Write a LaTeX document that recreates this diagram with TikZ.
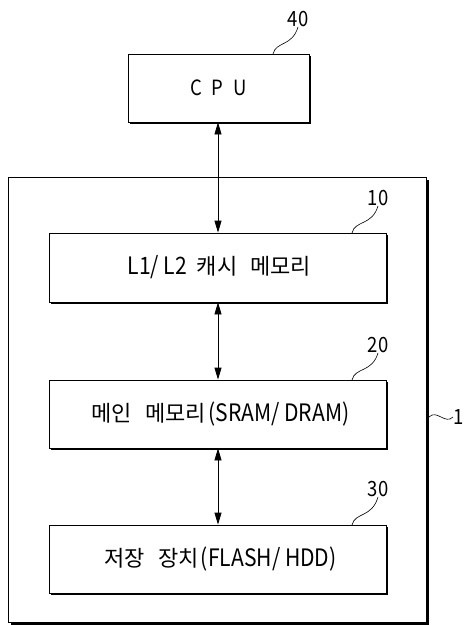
\documentclass[tikz,border=0pt]{standalone}
\usepackage{fontspec}
\usetikzlibrary{arrows.meta,shadows}
\setmainfont[FakeStretch=0.88]{Noto Sans CJK KR}
\newfontfamily\krfont{Noto Sans CJK KR}
\newcommand{\kr}[1]{{\krfont\fontsize{22}{24}\selectfont #1}}
\begin{document}
\begin{tikzpicture}[x=1pt,y=-1pt,
  blk/.style={draw=black, line width=0.8pt, fill=white, rectangle,
    inner sep=0pt,
    drop shadow={shadow xshift=2.2pt, shadow yshift=-2.2pt, fill=black, opacity=1}},
  lbl/.style={font=\fontsize{21}{24}\selectfont, inner sep=0pt},
  cputxt/.style={font=\fontsize{21}{24}\selectfont},
  txt/.style={font=\fontsize{24}{26}\selectfont},
  link/.style={line width=0.8pt, {Triangle[length=12pt,width=7pt]}-{Triangle[length=12pt,width=7pt]}},
  lead/.style={line width=0.6pt}]
\useasboundingbox (0,0) rectangle (466,625);

% outer system block
\node[blk, minimum width=418pt, minimum height=445pt, anchor=north west] (sys) at (8,177) {};

% component blocks
\node[blk, minimum width=181pt, minimum height=68pt] (cpu) at (218.5,88) {};
\node[cputxt] at (cpu.center) {C\hspace{0.45em}P\hspace{0.45em}U};

\node[blk, minimum width=337pt, minimum height=69pt] (cache) at (217.5,267.5) {};
\node[txt] at ([xshift=2pt]cache.center) {L1/ L2\hspace{0.4em}\kr{캐시\hspace{0.6em}메모리}};

\node[blk, minimum width=337pt, minimum height=68pt] (main) at (217.5,414) {};
\node[txt] at ([xshift=3pt]main.center) {\kr{메인\hspace{0.6em}메모리}\hspace{0.1em}(SRAM/ DRAM)};

\node[blk, minimum width=337pt, minimum height=68pt] (store) at (217.5,559) {};
\node[txt] at ([xshift=3pt]store.center) {\kr{저장\hspace{0.6em}장치}\hspace{0.1em}(FLASH/ HDD)};

% buses
\draw[link] (cpu.south -| 218,0) -- (cache.north -| 218,0);
\draw[link] (cache.south -| 218,0) -- (main.north -| 218,0);
\draw[link] (main.south -| 218,0) -- (store.north -| 218,0);

% reference numerals
\node[lbl] (n40) at (298,19) {40};
\coordinate (c40) at (273,54);
\draw[lead] (c40) .. controls (276,41) and (292,47) .. (n40.south);

\node[lbl] (n10) at (378,198) {10};
\coordinate (c10) at (352,233);
\draw[lead] (c10) .. controls (355,220) and (372,226) .. (n10.south);

\node[lbl] (n20) at (378,345) {20};
\coordinate (c20) at (352,380);
\draw[lead] (c20) .. controls (355,367) and (372,373) .. (n20.south);

\node[lbl] (n30) at (378,489) {30};
\coordinate (c30) at (352,525);
\draw[lead] (c30) .. controls (355,512) and (372,518) .. (n30.south);

\node[lbl, anchor=west] (n1) at (453,417) {1};
\coordinate (c1) at (429,417);
\draw[lead] (c1) .. controls (437,409) and (445,425) .. (n1.west);
\end{tikzpicture}
\end{document}
